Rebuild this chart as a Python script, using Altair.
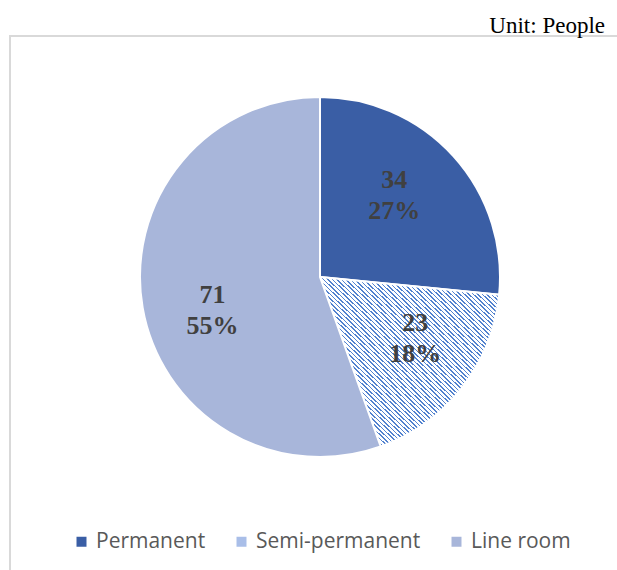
import altair as alt
import pandas as pd

categories = ["Permanent", "Semi-permanent", "Line room"]
values = [34, 23, 71]
order_idx = [0, 1, 2]

colors = ["#3a5ea5", "#a9bee8", "#a8b6da"]
hatch_blue = "#5282cf"

# diagonal hatch pattern built as a hard-stop linear gradient
n_stripes = 80
stops = []
for i in range(n_stripes):
    a = i / n_stripes
    b = (i + 0.36) / n_stripes
    c = (i + 1) / n_stripes
    stops += [
        {"offset": a, "color": hatch_blue},
        {"offset": b, "color": hatch_blue},
        {"offset": b, "color": "#ffffff"},
        {"offset": c, "color": "#ffffff"},
    ]
hatch = {"gradient": "linear", "x1": 0, "y1": 1, "x2": 1, "y2": 0, "stops": stops}

df = pd.DataFrame({"category": categories, "value": values, "idx": order_idx})

cx, cy = 320, 241

base = alt.Chart(df).transform_joinaggregate(
    total="sum(value)"
).transform_calculate(
    label="datum.value + '\\n' + format(datum.value / datum.total, '.0%')"
)

arcs = base.mark_arc(outerRadius=180, stroke="white", strokeWidth=2).encode(
    theta=alt.Theta("value:Q", stack=True),
    order=alt.Order("idx:Q"),
    color=alt.Color(
        "category:N",
        sort=categories,
        scale=alt.Scale(domain=categories, range=colors),
        legend=alt.Legend(
            orient="none",
            legendX=71,
            legendY=495,
            direction="horizontal",
            columns=3,
            title=None,
            symbolType="square",
            symbolSize=100,
            symbolStrokeWidth=0,
            symbolOpacity=1,
            labelFont="Open Sans",
            labelFontSize=21,
            labelColor="#595959",
            labelOffset=4,
            labelLimit=400,
            columnPadding=25,
            padding=0,
        ),
        condition={"test": "datum.category === 'Semi-permanent'", "value": hatch},
    ),
    x=alt.value(cx),
    y=alt.value(cy),
)

labels = base.mark_text(
    radius=112,
    thetaOffset=-0.11,
    lineBreak="\n",
    font="Liberation Serif",
    fontSize=26,
    fontWeight="bold",
    color="#404040",
    lineHeight=31,
    align="center",
    baseline="middle",
    dy=-13,
).encode(
    theta=alt.Theta("value:Q", stack=True),
    order=alt.Order("idx:Q"),
    text="label:N",
    x=alt.value(cx),
    y=alt.value(cy),
)

frame = alt.Chart(pd.DataFrame({"f": [0]})).mark_rect(
    fill="transparent", stroke="#d9d9d9", strokeWidth=2
).encode(
    x=alt.value(10), y=alt.value(0), x2=alt.value(700), y2=alt.value(700)
)

chart = alt.layer(frame, arcs, labels).properties(
    width=617,
    height=534,
    autosize="none",
    padding={"left": 0, "top": 36, "right": 0, "bottom": 0},
    title=alt.TitleParams(
        "Unit: People",
        anchor="end",
        frame="group",
        font="Liberation Serif",
        fontSize=23,
        fontWeight="normal",
        color="#000000",
        dx=-12,
        dy=26,
        offset=5,
        baseline="alphabetic",
    ),
).configure_view(stroke="transparent")

chart.save("out.html", embed_options={"renderer": "svg", "actions": False})
